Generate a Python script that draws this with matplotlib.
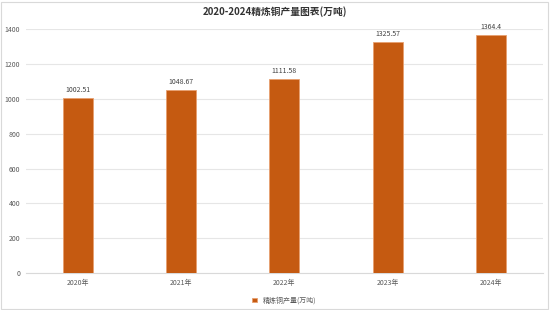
import matplotlib
matplotlib.use("Agg")
import matplotlib.pyplot as plt
from matplotlib.patches import Rectangle

plt.rcParams['font.family'] = ['Noto Sans CJK SC', 'DejaVu Sans']

# data
years = ["2020年", "2021年", "2022年", "2023年", "2024年"]
output = [1002.51, 1048.67, 1111.58, 1325.57, 1364.4]
labels = ["1002.51", "1048.67", "1111.58", "1325.57", "1364.4"]
yticks = [0, 200, 400, 600, 800, 1000, 1200, 1400]

bar_color = "#C55A11"

fig = plt.figure(figsize=(5.5, 3.1), dpi=100)
ax = fig.add_axes([0.047, 0.119, 0.94, 0.787])

bars = ax.bar(years, output, width=0.29, color=bar_color,
              edgecolor="#E8A070", linewidth=0.6, label="精炼铜产量(万吨)", zorder=3)
for b, t in zip(bars, labels):
    ax.text(b.get_x() + b.get_width() / 2, b.get_height() + 25, t,
            ha="center", va="bottom", fontsize=5, color="#404040")

ax.set_ylim(0, 1400)
ax.set_yticks(yticks)
ax.set_xlim(-0.5, 4.5)
ax.grid(axis="y", color="#E6E6E6", linewidth=0.8, zorder=0)
ax.tick_params(axis="both", length=0, labelsize=5, labelcolor="#595959", pad=4)
for s in ["top", "right", "left"]:
    ax.spines[s].set_visible(False)
ax.spines["bottom"].set_color("#D9D9D9")

fig.text(0.5, 0.962, "2020-2024精炼铜产量图表(万吨)", ha="center", va="center",
         fontsize=7, fontweight="bold", color="#333333")

ax.legend(loc="upper center", bbox_to_anchor=(0.5, -0.07), frameon=False,
          fontsize=5, handlelength=0.7, handleheight=0.7, labelcolor="#595959")

# outer light border
fig.patches.append(Rectangle((0.002, 0.004), 0.995, 0.99, transform=fig.transFigure,
                             fill=False, edgecolor="#D9D9D9", linewidth=0.8))

fig.savefig("out.png", dpi=100)
